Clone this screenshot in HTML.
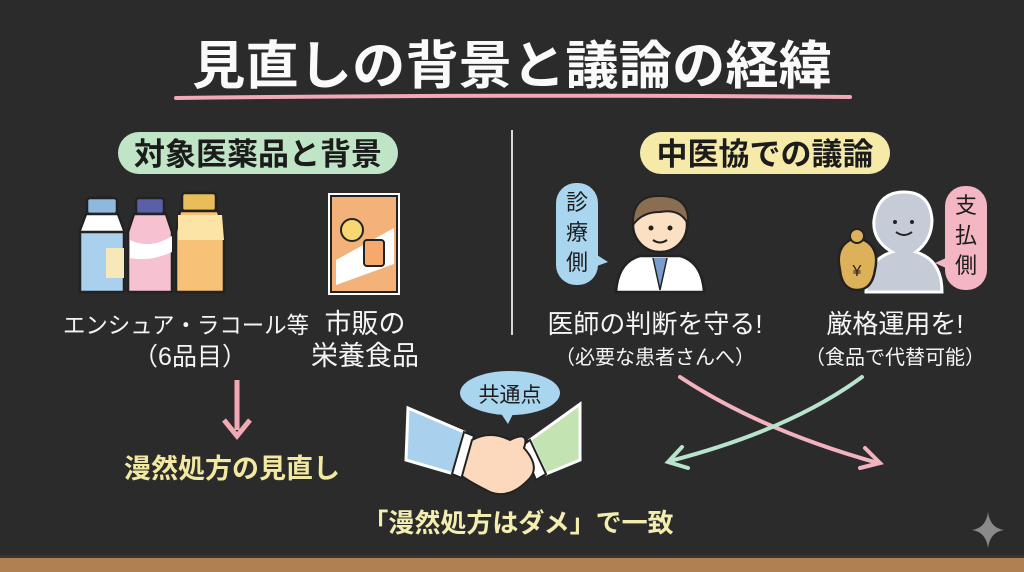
<!DOCTYPE html>
<html><head><meta charset="utf-8"><style>
html,body{margin:0;padding:0;background:#2a2a2a;}
svg{display:block}
text{font-family:"Liberation Sans","Noto Sans CJK JP",sans-serif;}
</style></head><body>
<svg width="1024" height="572" viewBox="0 0 1024 572" xmlns="http://www.w3.org/2000/svg">
<rect width="1024" height="572" fill="#2b2b2b"/>
<rect x="0" y="557" width="1024" height="15" fill="#b07f52"/>
<rect x="0" y="555" width="1024" height="3" fill="#3a3530"/>
<!-- title -->
<text x="512" y="84" text-anchor="middle" font-size="52" font-weight="bold" fill="#fafafa" textLength="640" lengthAdjust="spacingAndGlyphs">見直しの背景と議論の経緯</text>
<path d="M176 98 Q512 94 850 97" stroke="#f2a9b5" stroke-width="4" fill="none" stroke-linecap="round"/>
<line x1="512" y1="130" x2="512" y2="335" stroke="#d8d8d8" stroke-width="2"/>
<!-- pills -->
<rect x="118" y="132" width="280" height="42" rx="21" fill="#bfe4c6"/>
<text x="258" y="165" text-anchor="middle" font-size="31" font-weight="bold" fill="#1c1c1c">対象医薬品と背景</text>
<rect x="640" y="132" width="250" height="42" rx="21" fill="#f6eaa8"/>
<text x="765" y="165" text-anchor="middle" font-size="31" font-weight="bold" fill="#1c1c1c">中医協での議論</text>
<!-- bottles -->
<g stroke="#222" stroke-width="2.5">
<rect x="87" y="198" width="30" height="16" rx="3" fill="#8fb8de"/>
<path d="M86 214 L118 214 L124 230 L124 292 L80 292 L80 230 Z" fill="#fff"/>
<path d="M80 232 L124 232 L124 292 L80 292 Z" fill="#a9d1ee"/>
<rect x="106" y="248" width="18" height="30" fill="#f6e8b8" stroke="none"/>
<rect x="136" y="198" width="28" height="16" rx="3" fill="#5a5fa8"/>
<path d="M134 214 L166 214 L172 232 L172 292 L128 292 L128 232 Z" fill="#f6c2d2"/>
<path d="M130 240 Q150 250 172 236 L172 252 Q150 262 130 258 Z" fill="#fff" stroke="none"/>
<rect x="182" y="193" width="34" height="18" rx="3" fill="#e8bd5a"/>
<path d="M180 211 L218 211 L224 232 L224 292 L176 292 L176 232 Z" fill="#f8c178"/>
<path d="M178 215 L222 215 L224 240 L178 240 Z" fill="#fbe4a6" stroke="none"/>
</g>
<!-- bag -->
<rect x="331" y="196" width="66" height="96" fill="#f2b27a" stroke="#fff" stroke-width="6"/>
<rect x="331" y="196" width="66" height="96" fill="#f2b27a" stroke="#222" stroke-width="2"/>
<path d="M336 260 L394 228 L394 264 L336 285 Z" fill="#fff"/>
<circle cx="352" cy="230" r="11" fill="#f8d772" stroke="#222" stroke-width="2"/>
<rect x="364" y="240" width="20" height="26" rx="3" fill="#f7a86c" stroke="#222" stroke-width="2"/>
<!-- left texts -->
<text x="186" y="333" text-anchor="middle" font-size="23" fill="#f5f5f5" textLength="246" lengthAdjust="spacingAndGlyphs">エンシュア・ラコール等</text>
<text x="190" y="365" text-anchor="middle" font-size="25" fill="#f5f5f5">（6品目）</text>
<text x="365" y="333" text-anchor="middle" font-size="27" fill="#f5f5f5">市販の</text>
<text x="365" y="365" text-anchor="middle" font-size="27" fill="#f5f5f5">栄養食品</text>
<line x1="237" y1="380" x2="237" y2="430" stroke="#f2a9b5" stroke-width="5"/>
<path d="M224 420 L237 436 L250 420" stroke="#f2a9b5" stroke-width="5" fill="none"/>
<text x="232" y="478" text-anchor="middle" font-size="27" font-weight="bold" fill="#f3e8a2">漫然処方の見直し</text>
<!-- doctor bubble -->
<rect x="556" y="183" width="42" height="102" rx="20" fill="#a9d5ef"/>
<path d="M597 255 L608 262 L597 266 Z" fill="#a9d5ef"/>
<text x="577" y="210" text-anchor="middle" font-size="22" fill="#1c1c1c">診</text>
<text x="577" y="240" text-anchor="middle" font-size="22" fill="#1c1c1c">療</text>
<text x="577" y="270" text-anchor="middle" font-size="22" fill="#1c1c1c">側</text>
<!-- doctor -->
<path d="M616 292 Q618 262 640 256 L680 256 Q702 262 704 292 Z" fill="#fff" stroke="#222" stroke-width="2.5"/>
<path d="M653 258 L660 290 L667 258" fill="#7a9ccf" stroke="#222" stroke-width="1.5"/>
<circle cx="660" cy="225" r="27" fill="#fbe0c4" stroke="#222" stroke-width="2.5"/>
<path d="M633 225 Q632 195 660 196 Q690 196 688 224 Q680 208 660 212 Q642 212 633 225 Z" fill="#8b6d52" stroke="#222" stroke-width="2"/>
<circle cx="651" cy="228" r="2.5" fill="#222"/><circle cx="670" cy="228" r="2.5" fill="#222"/>
<path d="M653 240 Q660 245 667 240" stroke="#222" stroke-width="2" fill="none"/>
<!-- payer -->
<path d="M866 292 Q866 260 892 252 Q872 240 874 220 Q878 192 904 192 Q930 192 932 220 Q932 240 916 252 Q942 260 942 292 Z" fill="#c6cbd8" stroke="#fff" stroke-width="3"/>
<circle cx="895" cy="222" r="2" fill="#222"/><circle cx="912" cy="222" r="2" fill="#222"/>
<path d="M896 232 Q904 238 912 232" stroke="#222" stroke-width="2" fill="none"/>
<path d="M840 270 Q835 248 850 240 L864 240 Q880 248 875 270 Q872 290 857 290 Q842 290 840 270 Z" fill="#ddb05a" stroke="#222" stroke-width="2.5"/>
<circle cx="857" cy="236" r="7" fill="#ddb05a" stroke="#222" stroke-width="2"/>
<text x="857" y="276" text-anchor="middle" font-size="16" fill="#222">¥</text>
<rect x="945" y="186" width="42" height="104" rx="20" fill="#f4b6c2"/>
<path d="M946 258 L935 263 L946 268 Z" fill="#f4b6c2"/>
<text x="966" y="213" text-anchor="middle" font-size="22" fill="#1c1c1c">支</text>
<text x="966" y="243" text-anchor="middle" font-size="22" fill="#1c1c1c">払</text>
<text x="966" y="273" text-anchor="middle" font-size="22" fill="#1c1c1c">側</text>
<!-- right texts -->
<text x="655" y="333" text-anchor="middle" font-size="26" fill="#f5f5f5">医師の判断を守る!</text>
<text x="655" y="364" text-anchor="middle" font-size="20" fill="#f5f5f5">（必要な患者さんへ）</text>
<text x="895" y="333" text-anchor="middle" font-size="26" fill="#f5f5f5">厳格運用を!</text>
<text x="895" y="364" text-anchor="middle" font-size="20" fill="#f5f5f5">（食品で代替可能）</text>
<!-- crossing arrows -->
<path d="M680 377 Q760 430 878 463" stroke="#f2b3bf" stroke-width="4" fill="none" stroke-linecap="round"/>
<path d="M865 448 L880 463 L860 468" stroke="#f2b3bf" stroke-width="4" fill="none" stroke-linecap="round"/>
<path d="M862 377 Q790 430 670 461" stroke="#b8e3cc" stroke-width="4" fill="none" stroke-linecap="round"/>
<path d="M682 447 L668 462 L688 468" stroke="#b8e3cc" stroke-width="4" fill="none" stroke-linecap="round"/>
<!-- 共通点 bubble -->
<ellipse cx="510" cy="393" rx="50" ry="22" fill="#a9d5ef"/>
<path d="M500 412 L508 424 L514 412 Z" fill="#a9d5ef"/>
<text x="510" y="402" text-anchor="middle" font-size="21" fill="#1c1c1c">共通点</text>
<!-- handshake -->
<g stroke="#222" stroke-width="2">
<path d="M408 408 L464 432 L454 474 L406 460 Z" fill="#a9d1ee" stroke="#fff" stroke-width="3"/>
<path d="M464 432 L474 436 L462 478 L452 474 Z" fill="#fff"/>
<path d="M580 404 L580 460 L546 474 L530 440 Z" fill="#c3e3b2" stroke="#fff" stroke-width="3"/>
<path d="M530 440 L522 446 L536 480 L546 474 Z" fill="#fff"/>
<path d="M472 440 Q490 430 510 440 Q530 430 524 448 Q540 466 530 478 Q510 500 490 492 Q470 482 462 476 Z" fill="#fcd9bc"/>
</g>
<text x="518" y="532" text-anchor="middle" font-size="26" font-weight="bold" fill="#f3edb0">「漫然処方はダメ」で一致</text>
<path d="M988 512 Q990 528 1004 530 Q990 532 988 548 Q986 532 972 530 Q986 528 988 512 Z" fill="#8a8a8a"/>
</svg>
</body></html>
